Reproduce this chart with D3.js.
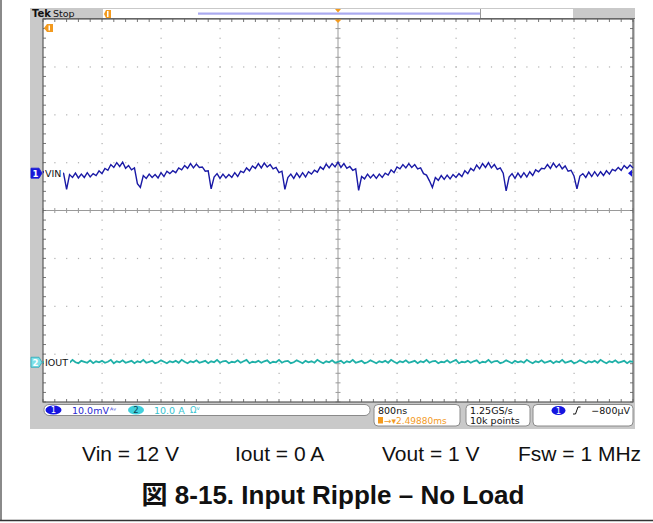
<!DOCTYPE html>
<html><head><meta charset="utf-8">
<script src="https://cdn.jsdelivr.net/npm/d3@7"></script>
<style>html,body{margin:0;padding:0;background:#fff;}svg{display:block;}</style>
</head><body>
<script>
// ---- data ----
const sampleStepNs = 40;           // scope sample spacing used for the traces
const timeStartNs = -4000;         // left edge of record (800 ns/div x 10 div)
const vinMv = [0.4,-0.3,0.5,-0.2,0.5,-0.4,0.4,-0.1,
 -3.4,
 -0.3,-0.9,0.0,-1.0,-0.2,-0.9,0.1,-0.8,-0.1,-0.5,0.5,-0.1,1.0,0.6,1.8,1.2,2.2,1.4,2.3,1.0,1.6,0.7,1.1,
 -2.2,-3.0,
 -0.5,-1.1,-0.2,-0.9,-0.3,-1.0,0.1,-0.7,0.4,-0.1,0.5,0.1,1.1,0.7,1.6,1.0,2.0,1.1,1.9,1.2,1.3,0.4,0.5,
 -3.3,
 -0.8,-0.1,-1.1,-0.2,-1.0,-0.3,-0.9,0.1,-0.7,0.4,0.1,1.1,0.5,1.5,1.0,2.0,1.1,2.1,1.3,1.8,0.9,1.2,0.1,0.4,
 -3.4,
 -0.9,-0.2,-1.1,0.0,-0.9,0.1,-0.8,0.3,-0.2,0.6,0.2,1.3,0.8,1.9,1.1,2.0,1.3,2.3,1.2,2.0,1.0,1.4,0.6,0.9,
 -3.6,
 -0.7,-1.2,-0.2,-1.0,-0.3,-1.1,-0.2,-0.9,0.0,-0.4,0.7,0.1,1.3,0.9,1.8,1.1,2.0,1.2,1.8,0.9,1.1,-0.1,-0.4,-1.6,
 -3.0,
 -0.9,-1.5,-0.5,-1.3,-0.4,-1.2,-0.3,-0.9,-0.1,-0.7,0.5,-0.1,1.0,0.5,1.7,0.9,2.0,1.2,2.2,1.1,1.8,0.8,1.1,0.0,
 -3.7,
 -0.8,-0.1,-1.1,0.0,-0.9,0.1,-0.8,0.3,-0.5,0.7,0.3,1.0,0.9,1.8,1.0,2.1,1.2,1.9,0.9,1.5,0.4,0.6,-0.6,
 -3.3,
 -0.6,-0.1,-0.9,0.2,-0.7,0.3,-0.6,0.3,-0.5,0.5,-0.2,0.8,0.5,1.2,0.6,1.6,1.0,1.7,1.1];
const ioutA = [0.1,-0.2,0.3,0.0,-0.1,0.4,-0.2,0.1,0.2,-0.1,0.5,0.0,-0.2,0.3,0.1,-0.1,0.4,-0.2,0.2,0.0,
 0.3,-0.1,0.1,0.5,-0.2,0.2,0.0,0.4,-0.1,0.1,0.3,-0.2,0.2,0.0,0.5,-0.1,0.1,0.3,-0.2,0.0,
 0.4,0.1,-0.2,0.2,0.0,0.3,-0.1,0.5,0.1,-0.2,0.2,0.0,0.4,-0.1,0.1,0.3,-0.2,0.2,0.0,0.5,
 -0.1,0.2,0.3,-0.2,0.1,0.0,0.4,-0.1,0.2,0.5,-0.2,0.1,0.0,0.3,-0.1,0.2,0.4,-0.2,0.1,0.0,
 0.5,-0.1,0.2,0.3,-0.2,0.0,0.4,0.1,-0.2,0.3,0.0,0.2,-0.1,0.5,0.1,-0.2,0.2,0.0,0.4,-0.1,
 0.1,0.3,-0.2,0.2,0.0,0.5,-0.1,0.1,0.3,-0.2,0.0,0.4,0.1,-0.2,0.2,0.0,0.3,-0.1,0.5,0.1,
 -0.2,0.2,0.0,0.4,-0.1,0.1,0.3,-0.2,0.2,0.0,0.5,-0.1,0.2,0.3,-0.2,0.1,0.0,0.4,-0.1,0.2,
 0.5,-0.2,0.1,0.0,0.3,-0.1,0.2,0.4,-0.2,0.1,0.0,0.5,-0.1,0.2,0.3,-0.2,0.0,0.4,0.1,-0.2,
 0.3,0.0,0.2,-0.1,0.5,0.1,-0.2,0.2,0.0,0.4,-0.1,0.1,0.3,-0.2,0.2,0.0,0.5,-0.1,0.1,0.3,
 -0.2,0.0,0.4,0.1,-0.2,0.2,0.0,0.3,-0.1,0.5,0.1,-0.2,0.2,0.0,0.4,-0.1,0.1,0.3,-0.2,0.2,0.1];
const ch1 = {name:"VIN", scaleUnitsPerDiv:10, posDiv:0.78, label:"10.0mV"};
const ch2 = {name:"IOUT", scaleUnitsPerDiv:10, posDiv:-3.17, label:"10.0 A"};
const horizLabel = "800ns";
const triggerPos = "2.49880ms";
const sampleRate = "1.25GS/s";
const recordLen = "10k points";
const triggerLevel = "\u2212800\u00b5V";
const conditions = ["Vin = 12 V","Iout = 0 A","Vout = 1 V","Fsw = 1 MHz"];
const caption = "\u56f3 8-15. Input Ripple \u2013 No Load";

// ---- drawing ----
const W=653,H=523;
const svg=d3.select("body").append("svg").attr("width",W).attr("height",H);
const gx0=43,gx1=633,gy0=19,gy1=402;
const x=d3.scaleLinear().domain([-4000,4000]).range([gx0,gx1]);
const y=d3.scaleLinear().domain([-4,4]).range([gy1,gy0]);

// page frame
svg.append("line").attr("x1",1).attr("x2",1).attr("y1",0).attr("y2",521).attr("stroke","#8a8a8a").attr("stroke-width",2);
svg.append("line").attr("x1",0).attr("x2",W).attr("y1",520.5).attr("y2",520.5).attr("stroke","#333").attr("stroke-width",1.5);

// scope background
svg.append("rect").attr("x",30).attr("y",8).attr("width",605).attr("height",421).attr("fill","#c9c9c9");
svg.append("rect").attr("x",gx0).attr("y",gy0).attr("width",gx1-gx0).attr("height",gy1-gy0).attr("fill","#fff");

const gridG=svg.append("g");
const xDivs=d3.range(-5,6).map(d=>d*800);
const yDivs=d3.range(-4,5);
const xMinor=d3.range(-25,26).map(d=>d*160);
const yMinor=d3.range(-20,21).map(d=>d*0.2);
// dotted grid
xDivs.filter(d=>d!==0&&Math.abs(d)!==4000).forEach(xd=>{
  yMinor.forEach(ym=>{gridG.append("rect").attr("x",x(xd)-0.5).attr("y",y(ym)-0.5).attr("width",1.2).attr("height",1.2).attr("fill","#b0b0b0");});
});
yDivs.filter(d=>d!==0&&Math.abs(d)!==4).forEach(yd=>{
  xMinor.forEach(xm=>{gridG.append("rect").attr("x",x(xm)-0.5).attr("y",y(yd)-0.5).attr("width",1.2).attr("height",1.2).attr("fill","#b0b0b0");});
});
// center lines
gridG.append("line").attr("x1",x(0)).attr("x2",x(0)).attr("y1",gy0).attr("y2",gy1).attr("stroke","#9a9a9a").attr("stroke-width",1);
gridG.append("line").attr("x1",gx0).attr("x2",gx1).attr("y1",y(0)).attr("y2",y(0)).attr("stroke","#9a9a9a").attr("stroke-width",1);
yMinor.forEach(ym=>{gridG.append("line").attr("x1",x(0)-2.5).attr("x2",x(0)+2.5).attr("y1",y(ym)).attr("y2",y(ym)).attr("stroke","#9a9a9a");});
xMinor.forEach(xm=>{gridG.append("line").attr("x1",x(xm)).attr("x2",x(xm)).attr("y1",y(0)-2.5).attr("y2",y(0)+2.5).attr("stroke","#9a9a9a");});
// edge ticks
xMinor.forEach(xm=>{
  gridG.append("line").attr("x1",x(xm)).attr("x2",x(xm)).attr("y1",gy0).attr("y2",gy0+3).attr("stroke","#777");
  gridG.append("line").attr("x1",x(xm)).attr("x2",x(xm)).attr("y1",gy1-3).attr("y2",gy1).attr("stroke","#777");
});
yMinor.forEach(ym=>{
  gridG.append("line").attr("x1",gx0).attr("x2",gx0+3).attr("y1",y(ym)).attr("y2",y(ym)).attr("stroke","#777");
  gridG.append("line").attr("x1",gx1-3).attr("x2",gx1).attr("y1",y(ym)).attr("y2",y(ym)).attr("stroke","#777");
});
gridG.append("rect").attr("x",gx0).attr("y",gy0).attr("width",gx1-gx0).attr("height",gy1-gy0).attr("fill","none").attr("stroke","#5a5a5a").attr("stroke-width",1.2);

// traces
const t=i=>timeStartNs+i*sampleStepNs;
const line1=d3.line().x((d,i)=>x(t(i))).y(d=>y(ch1.posDiv+d/ch1.scaleUnitsPerDiv));
const line2=d3.line().x((d,i)=>x(t(i))).y(d=>y(ch2.posDiv+d/ch2.scaleUnitsPerDiv));
svg.append("path").datum(ioutA).attr("d",line2).attr("fill","none").attr("stroke","#1fb0a8").attr("stroke-width",1.8);
svg.append("path").datum(vinMv).attr("d",line1).attr("fill","none").attr("stroke","#1a1aa6").attr("stroke-width",1.4).attr("stroke-linejoin","miter");

// trace labels with white background
function chLabel(txt,yy,w){
  svg.append("rect").attr("x",gx0+1).attr("y",yy-6).attr("width",w).attr("height",11).attr("fill","#fff");
  svg.append("text").attr("x",gx0+2).attr("y",yy+4).attr("font-family","DejaVu Sans, sans-serif").attr("font-size",9.5).attr("fill","#111").text(txt);
}
chLabel(ch1.name,y(ch1.posDiv),19);
chLabel(ch2.name,y(ch2.posDiv),26);

// channel markers at left
function chMarker(n,yy,fill,tcol){
  svg.append("path").attr("d",`M31,${yy-5}H39L42,${yy}L39,${yy+5}H31Z`).attr("fill",fill).attr("stroke",fill==="#1818d8"?"#1818d8":"#2aa8b8").attr("stroke-width",0.8);
  svg.append("text").attr("x",35.5).attr("y",yy+3.5).attr("text-anchor","middle").attr("font-family","DejaVu Sans, sans-serif").attr("font-size",8.5).attr("font-weight","bold").attr("fill",tcol).text(n);
}
chMarker("1",y(ch1.posDiv),"#1818d8","#fff");
chMarker("2",y(ch2.posDiv),"#7fe0e8","#fff");
// right offset arrow ch1
svg.append("path").attr("d",`M${gx1-1},${y(ch1.posDiv)-3.5}L${gx1-5},${y(ch1.posDiv)}L${gx1-1},${y(ch1.posDiv)+3.5}Z`).attr("fill","#1818d8");

// top bar
svg.append("text").attr("x",32).attr("y",17).attr("font-family","DejaVu Sans, sans-serif").attr("font-size",10).attr("font-weight","bold").attr("fill","#111").text("Tek");
svg.append("text").attr("x",53).attr("y",17).attr("font-family","DejaVu Sans, sans-serif").attr("font-size",9.5).attr("fill","#111").text("Stop");
svg.append("rect").attr("x",103).attr("y",9).attr("width",470).attr("height",9.5).attr("fill","#fff");
svg.append("rect").attr("x",198).attr("y",12.5).attr("width",282).attr("height",2.2).attr("fill","#aaaaf0");
svg.append("line").attr("x1",480.5).attr("x2",480.5).attr("y1",9).attr("y2",18.5).attr("stroke","#999");
svg.append("line").attr("x1",gx0).attr("x2",635).attr("y1",18.5).attr("y2",18.5).attr("stroke","#666");
// orange markers
svg.append("path").attr("d","M104,14L106,10H111V18H106Z").attr("fill","#f39a1e");
svg.append("rect").attr("x",107).attr("y",11).attr("width",1.5).attr("height",6).attr("fill","#fff");
svg.append("path").attr("d",`M${x(0)-3},9L${x(0)+3},9L${x(0)},12.5Z`).attr("fill","#f39a1e");
svg.append("path").attr("d",`M${x(0)-3.5},${gy0+0.5}L${x(0)+3.5},${gy0+0.5}L${x(0)},${gy0+4}Z`).attr("fill","#f39a1e");
svg.append("path").attr("d","M44,28L47,24H53V32H47Z").attr("fill","#f39a1e");
svg.append("rect").attr("x",48.5).attr("y",25.5).attr("width",1.5).attr("height",5).attr("fill","#fff");

// bottom status area
const mono="DejaVu Sans, sans-serif";
svg.append("rect").attr("x",44).attr("y",404.5).attr("width",326).attr("height",11).attr("rx",5).attr("fill","#fff").attr("stroke","#8a8a8a");
svg.append("ellipse").attr("cx",53.5).attr("cy",410).attr("rx",8).attr("ry",4.6).attr("fill","#1414e0");
svg.append("text").attr("x",53.5).attr("y",413.3).attr("text-anchor","middle").attr("font-family",mono).attr("font-size",8.5).attr("fill","#fff").text("1");
svg.append("text").attr("x",72).attr("y",413.5).attr("font-family",mono).attr("font-size",9.5).attr("fill","#2a2ad2").text(ch1.label);
svg.append("text").attr("x",110).attr("y",412.5).attr("font-family",mono).attr("font-size",7.5).attr("fill","#2a2ad2").text("\u1d2c\u1d5b");
svg.append("ellipse").attr("cx",136).attr("cy",410).attr("rx",8).attr("ry",4.6).attr("fill","#40d0dc");
svg.append("text").attr("x",136).attr("y",413.3).attr("text-anchor","middle").attr("font-family",mono).attr("font-size",8.5).attr("fill","#0b4050").text("2");
svg.append("text").attr("x",154).attr("y",413.5).attr("font-family",mono).attr("font-size",9.5).attr("fill","#36c4d0").text(ch2.label);
svg.append("text").attr("x",190).attr("y",413).attr("font-family",mono).attr("font-size",8.5).attr("fill","#36c4d0").text("\u03a9\u1d5b");

function box(x0,x1){svg.append("rect").attr("x",x0).attr("y",404.5).attr("width",x1-x0).attr("height",21.5).attr("rx",4).attr("fill","#fff").attr("stroke","#8a8a8a");}
box(374,460);box(466,530);box(533,633);
svg.append("text").attr("x",378).attr("y",414).attr("font-family",mono).attr("font-size",9.5).attr("fill","#111").text(horizLabel);
svg.append("rect").attr("x",378).attr("y",417).attr("width",5).attr("height",6.5).attr("fill","#f39a1e");
svg.append("text").attr("x",384).attr("y",423.5).attr("font-family",mono).attr("font-size",9).attr("fill","#f39a1e").text("\u2192\u25be"+triggerPos);
svg.append("text").attr("x",470).attr("y",414).attr("font-family",mono).attr("font-size",9.5).attr("fill","#111").text(sampleRate);
svg.append("text").attr("x",470).attr("y",423.5).attr("font-family",mono).attr("font-size",9.5).attr("fill","#111").text(recordLen);
svg.append("ellipse").attr("cx",558.5).attr("cy",410.5).attr("rx",7).attr("ry",4.6).attr("fill","#1414e0");
svg.append("text").attr("x",558.5).attr("y",413.8).attr("text-anchor","middle").attr("font-family",mono).attr("font-size",8.5).attr("fill","#fff").text("1");
svg.append("path").attr("d","M573,414H575.5L578,407H580.5").attr("fill","none").attr("stroke","#111").attr("stroke-width",1);
svg.append("text").attr("x",630).attr("y",414).attr("text-anchor","end").attr("font-family",mono).attr("font-size",9.5).attr("fill","#111").text(triggerLevel);

// conditions line
const condX=[82,235,382,518];
conditions.forEach((c,i)=>{
  svg.append("text").attr("x",condX[i]).attr("y",461).attr("font-family","Liberation Sans, Arial, sans-serif").attr("font-size",21).attr("fill","#111").text(c);
});
svg.append("text").attr("x",333).attr("y",504).attr("text-anchor","middle").attr("font-family","Liberation Sans, Arial, 'Noto Sans CJK JP', sans-serif").attr("font-size",26).attr("font-weight","bold").attr("fill","#111").text(caption);
</script>
</body></html>
